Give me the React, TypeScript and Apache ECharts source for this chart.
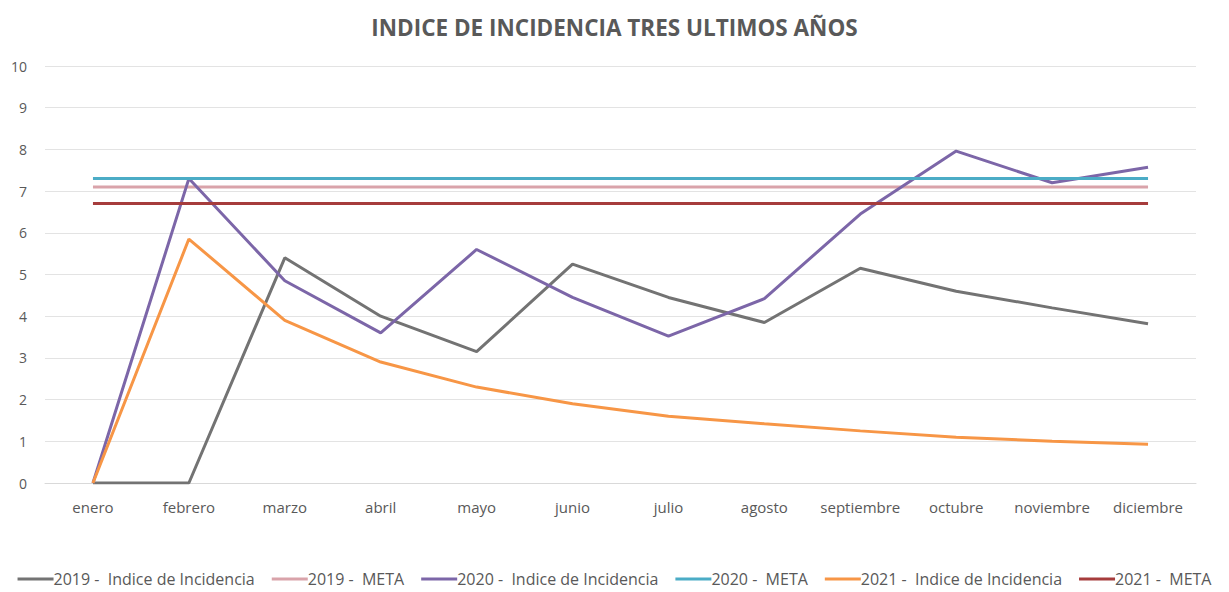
import React, { useEffect, useRef } from "react";
import * as echarts from "echarts";

const months = ["enero", "febrero", "marzo", "abril", "mayo", "junio", "julio", "agosto", "septiembre", "octubre", "noviembre", "diciembre"];
const yTicks = [0, 1, 2, 3, 4, 5, 6, 7, 8, 9, 10];
const indice2019 = [0, 0, 5.4, 4.0, 3.15, 5.25, 4.45, 3.85, 5.15, 4.6, 4.2, 3.82];
const meta2019 = [7.1, 7.1, 7.1, 7.1, 7.1, 7.1, 7.1, 7.1, 7.1, 7.1, 7.1, 7.1];
const indice2020 = [0, 7.3, 4.85, 3.6, 5.6, 4.45, 3.52, 4.42, 6.45, 7.96, 7.2, 7.57];
const meta2020 = [7.3, 7.3, 7.3, 7.3, 7.3, 7.3, 7.3, 7.3, 7.3, 7.3, 7.3, 7.3];
const indice2021 = [0, 5.85, 3.9, 2.9, 2.3, 1.9, 1.6, 1.42, 1.25, 1.1, 1.0, 0.93];
const meta2021 = [6.7, 6.7, 6.7, 6.7, 6.7, 6.7, 6.7, 6.7, 6.7, 6.7, 6.7, 6.7];

const seriesNames = [
  "2019 -  Indice de Incidencia",
  "2019 -  META",
  "2020 -  Indice de Incidencia",
  "2020 -  META",
  "2021 -  Indice de Incidencia",
  "2021 -  META",
];
const seriesData = [indice2019, meta2019, indice2020, meta2020, indice2021, meta2021];
const seriesColors = ["#737373", "#d9a3aa", "#7c66a8", "#4bacc6", "#f79646", "#a63c3c"];

export default function App() {
  const ref = useRef<HTMLDivElement>(null);
  useEffect(() => {
    if (!ref.current) return;
    const chart = echarts.init(ref.current, undefined, { renderer: "svg" });
    const font = "'Open Sans', 'Noto Sans', sans-serif";
    chart.setOption({
      animation: false,
      backgroundColor: "#ffffff",
      title: {
        text: "INDICE DE INCIDENCIA TRES ULTIMOS AÑOS",
        left: "center",
        top: 11,
        textStyle: { fontFamily: font, fontSize: 22.5, fontWeight: "bold", color: "#595959" },
      },
      legend: {
        bottom: 0,
        left: "center",
        itemWidth: 36,
        itemHeight: 3,
        itemGap: 17,
        icon: "rect",
        textStyle: { fontFamily: font, fontSize: 16, color: "#595959", padding: [0, 0, 0, -5] },
        data: seriesNames,
      },
      grid: { left: 45, right: 33, top: 66, bottom: 109, containLabel: false },
      xAxis: {
        type: "category",
        data: months,
        boundaryGap: true,
        axisLine: { lineStyle: { color: "#d9d9d9", width: 1 } },
        axisTick: { show: false },
        axisLabel: { fontFamily: font, fontSize: 15, color: "#595959", margin: 16, interval: 0 },
      },
      yAxis: {
        type: "value",
        min: yTicks[0],
        max: yTicks[yTicks.length - 1],
        interval: 1,
        axisLine: { show: false },
        axisTick: { show: false },
        splitLine: { lineStyle: { color: "#e3e3e3", width: 1 } },
        axisLabel: { fontFamily: font, fontSize: 14, color: "#595959", margin: 18 },
      },
      series: seriesNames.map((name, i) => ({
        name,
        type: "line",
        data: seriesData[i],
        smooth: false,
        showSymbol: false,
        symbol: "none",
        color: seriesColors[i],
        lineStyle: { color: seriesColors[i], width: 3 },
      })),
    });
    return () => chart.dispose();
  }, []);
  return <div ref={ref} style={{ position: "fixed", left: 0, top: 0, width: 1229, height: 592 }} />;
}
